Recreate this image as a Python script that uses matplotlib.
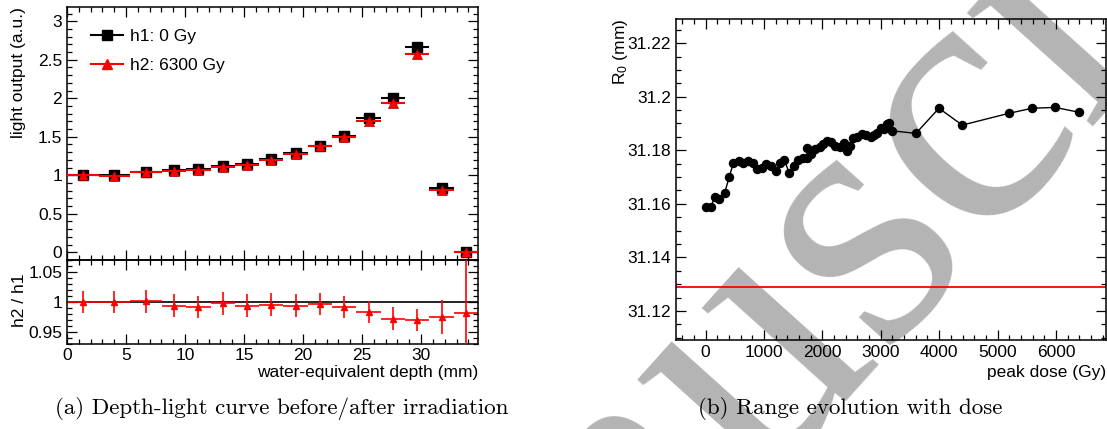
import matplotlib
matplotlib.use("Agg")
import matplotlib.pyplot as plt
import numpy as np
from matplotlib.lines import Line2D
from matplotlib.ticker import MultipleLocator, FuncFormatter

plt.rcParams["font.family"] = ["Liberation Sans", "DejaVu Sans"]
plt.rcParams["mathtext.default"] = "regular"

# depth-light curve: variable bins (mm), h1 = 0 Gy, h2 = 6300 Gy
bin_edges = [0.0, 2.68, 5.36, 8.04, 10.10, 12.16, 14.22, 16.28, 18.34, 20.40,
             22.46, 24.52, 26.58, 28.64, 30.70, 32.76, 34.82]
h1 = [1.00, 1.00, 1.04, 1.065, 1.08, 1.115, 1.145, 1.21, 1.285, 1.38,
      1.51, 1.74, 2.00, 2.66, 0.835, 0.0]
h2 = [1.00, 0.995, 1.041, 1.059, 1.071, 1.112, 1.138, 1.204, 1.277, 1.375,
      1.497, 1.710, 1.943, 2.580, 0.814, 0.0]
ratio = [1.000, 1.000, 1.001, 0.994, 0.9915, 0.998, 0.994, 0.9955, 0.994, 0.9966,
         0.9915, 0.983, 0.972, 0.970, 0.975, 0.981]
ratio_err = [0.019, 0.019, 0.019, 0.019, 0.019, 0.019, 0.019, 0.019, 0.019, 0.019,
             0.019, 0.019, 0.019, 0.018, 0.028, 0.5]

# range evolution with dose
dose = [0, 86, 159, 233, 325, 404, 473, 565, 644, 724,
        805, 873, 959, 1033, 1118, 1199, 1273, 1346, 1432, 1512,
        1586, 1661, 1730, 1740, 1798, 1877, 1957, 2014, 2083, 2141,
        2219, 2300, 2368, 2414, 2471, 2518, 2586, 2672, 2745, 2826,
        2888, 2929, 2997, 3054, 3100, 3140, 3186, 3602, 3996, 4395,
        5195, 5594, 5988, 6394]
r0 = [31.1590, 31.1587, 31.1627, 31.1617, 31.1640, 31.1701, 31.1751, 31.1761, 31.1751, 31.1761,
      31.1751, 31.1730, 31.1735, 31.1749, 31.1742, 31.1724, 31.1751, 31.1764, 31.1716, 31.1743,
      31.1764, 31.1770, 31.1772, 31.1807, 31.1786, 31.1805, 31.1813, 31.1824, 31.1836, 31.1830,
      31.1817, 31.1811, 31.1826, 31.1799, 31.1816, 31.1845, 31.1851, 31.1861, 31.1858, 31.1851,
      31.1857, 31.1866, 31.1884, 31.1878, 31.1898, 31.1903, 31.1873, 31.1863, 31.1957, 31.1894,
      31.1938, 31.1957, 31.1960, 31.1942]
r0_ref = 31.129

W, H = 1107, 429


def box(x0, y0, x1, y1):
    return [x0 / W, 1 - y1 / H, (x1 - x0) / W, (y1 - y0) / H]


def fmt(v, pos):
    s = f"{v:.3f}".rstrip("0").rstrip(".")
    return "0" if s in ("-0", "") else s


def root_ticks(ax):
    ax.tick_params(which="both", direction="in", top=True, right=True, labelsize=12.5, width=0.9)
    ax.tick_params(which="major", length=7)
    ax.tick_params(which="minor", length=3.5)
    for s in ax.spines.values():
        s.set_linewidth(1.1)
    ax.set_facecolor("none")


fig = plt.figure(figsize=(W / 100, H / 100), dpi=100)

# watermark behind everything
fig.text(801 / W, 1 - 307 / H, "Manuscript", fontsize=265, family="Liberation Serif",
         color="#b4b4b4", rotation=48, ha="center", va="center", zorder=-5)

edges = np.array(bin_edges)
centers = 0.5 * (edges[:-1] + edges[1:])

# top: light output
ax1 = fig.add_axes(box(67, 7, 478, 260))
ax1.hlines(h1, edges[:-1], edges[1:], color="black", lw=1.5, zorder=2)
ax1.plot(centers, h1, "s", color="black", ms=6.5, zorder=3, ls="none")
ax1.hlines(h2, edges[:-1], edges[1:], color="red", lw=1.5, zorder=4)
ax1.plot(centers, h2, "^", color="red", mec="#aa0000", mew=0.5, ms=6.5, zorder=5, ls="none")
ax1.set_xlim(0, edges[-1])
ax1.set_ylim(-0.1, 3.185)
ax1.xaxis.set_major_locator(MultipleLocator(5))
ax1.xaxis.set_minor_locator(MultipleLocator(1))
ax1.yaxis.set_major_locator(MultipleLocator(0.5))
ax1.yaxis.set_minor_locator(MultipleLocator(0.1))
ax1.yaxis.set_major_formatter(FuncFormatter(fmt))
root_ticks(ax1)
ax1.tick_params(labelbottom=False)
handles = [Line2D([], [], color="black", lw=1.5, marker="s", ms=6.5),
           Line2D([], [], color="red", lw=1.5, marker="^", ms=6.5)]
ax1.legend(handles, ["h1: 0 Gy", "h2: 6300 Gy"], loc="upper left", frameon=False,
           fontsize=12.5, handlelength=1.8, handletextpad=0.4, labelspacing=0.8,
           bbox_to_anchor=(0.03, 0.96), borderaxespad=0.3)

# bottom: ratio
ax2 = fig.add_axes(box(67, 260, 478, 344))
ax2.axhline(1.0, color="black", lw=1.2, zorder=1)
ax2.hlines(ratio, edges[:-1], edges[1:], color="red", lw=1.2, zorder=2)
ax2.errorbar(centers, ratio, yerr=ratio_err, fmt="^", color="red", ms=5.0, elinewidth=1.2,
             capsize=0, zorder=3)
ax2.set_xlim(0, edges[-1])
ax2.set_ylim(0.9295, 1.0705)
ax2.xaxis.set_major_locator(MultipleLocator(5))
ax2.xaxis.set_minor_locator(MultipleLocator(1))
ax2.yaxis.set_major_locator(MultipleLocator(0.05))
ax2.yaxis.set_minor_locator(MultipleLocator(0.01))
ax2.yaxis.set_major_formatter(FuncFormatter(fmt))
root_ticks(ax2)
ax2.tick_params(axis="x", pad=3)

fig.text(19 / W, 1 - 7 / H, "light output (a.u.)", rotation=90, ha="center", va="top", fontsize=12.5)
fig.text(19 / W, 1 - 300 / H, "h2 / h1", rotation=90, ha="center", va="center", fontsize=12.5)
fig.text(478 / W, 1 - 372 / H, "water-equivalent depth (mm)", ha="right", va="center", fontsize=12.5)

# right: R0 vs dose
ax3 = fig.add_axes(box(676, 19, 1106, 340))
ax3.axhline(r0_ref, color="red", lw=1.3, zorder=1)
ax3.plot(dose, r0, "-o", color="black", lw=1.0, ms=5.8, zorder=3)
ax3.set_xlim(-508, 6858)
ax3.set_ylim(31.1092, 31.229)
ax3.xaxis.set_major_locator(MultipleLocator(1000))
ax3.xaxis.set_minor_locator(MultipleLocator(200))
ax3.yaxis.set_major_locator(MultipleLocator(0.02))
ax3.yaxis.set_minor_locator(MultipleLocator(0.005))
ax3.yaxis.set_major_formatter(FuncFormatter(fmt))
root_ticks(ax3)
fig.text(620 / W, 1 - 19 / H, "R$_0$ (mm)", rotation=90, ha="center", va="top", fontsize=12.5)
fig.text(1106 / W, 1 - 372 / H, "peak dose (Gy)", ha="right", va="center", fontsize=12.5)

# captions
fig.text(282 / W, 1 - 409 / H, "(a) Depth-light curve before/after irradiation",
         ha="center", va="center", fontsize=16.6, family="cmr10")
fig.text(850 / W, 1 - 409 / H, "(b) Range evolution with dose",
         ha="center", va="center", fontsize=16.6, family="cmr10")

fig.savefig("out.png", dpi=100)
